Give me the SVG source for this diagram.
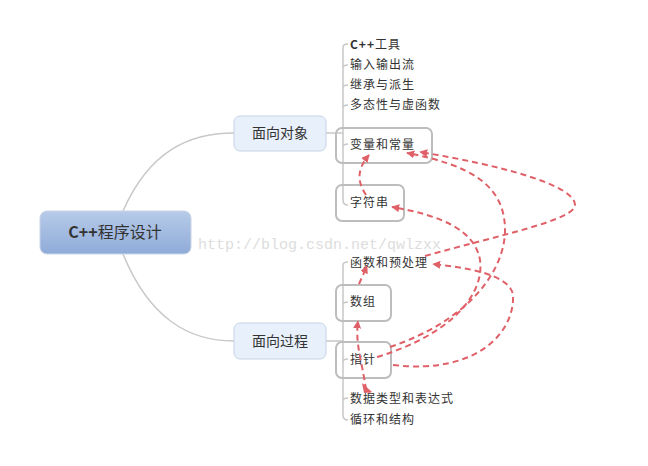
<svg xmlns="http://www.w3.org/2000/svg" width="648" height="466" viewBox="0 0 648 466">
<style>
.t{font-family:"Noto Sans CJK SC","Liberation Sans",sans-serif;font-size:12px;fill:#333;letter-spacing:1px}
.b{font-family:"Noto Sans CJK SC","Liberation Sans",sans-serif;font-size:14px;fill:#333}
.g{fill:none;stroke:#c8c8c8;stroke-width:1.5}
.sel{fill:none;stroke:#bdbdbd;stroke-width:2}
.d{fill:none;stroke:#e06068;stroke-width:2;stroke-dasharray:6 4}
</style>
<defs>
<linearGradient id="rg" x1="0" y1="0" x2="0" y2="1"><stop offset="0" stop-color="#b7cbe9"/><stop offset="1" stop-color="#8fabd8"/></linearGradient>
<marker id="a" viewBox="0 0 10 10" refX="9" refY="5" markerWidth="4" markerHeight="4" orient="auto"><path d="M0,0L10,5L0,10z" fill="#e06068"/></marker>
</defs>
<rect width="648" height="466" fill="#fff"/>
<g id="links" class="g">
<path d="M123,211 C150,150 190,133 234,133"/>
<path d="M123,254 C150,320 190,341 234,341"/>
<path d="M326,133 H343 M326,341 H343"/>
<path d="M343,47 V200 Q343,205 348,205 M343,47 Q343,44 348,44 M343,68 Q343,65 348,65 M343,88 Q343,85 348,85 M343,108 Q343,105 348,105 M343,147 Q343,144 348,144"/>
<path d="M343,265 V415 Q343,420 348,420 M343,265 Q343,262 348,262 M343,305 Q343,302 348,302 M343,362 Q343,359 348,359 M343,401 Q343,398 348,398"/>
</g>
<g id="root"><rect x="40" y="211" width="151" height="43" rx="7" fill="url(#rg)" stroke="#c9d4e6"/><text x="115" y="238" text-anchor="middle" class="b" style="font-size:16px;font-weight:bold">C++<tspan font-weight="normal">程序设计</tspan></text></g>
<g id="oop"><rect x="234" y="116" width="92" height="35" rx="6" fill="#e8f0fb" stroke="#c6d3e6"/><text x="280" y="138" text-anchor="middle" class="b">面向对象</text></g>
<g id="pp"><rect x="234" y="323" width="92" height="36" rx="6" fill="#e8f0fb" stroke="#c6d3e6"/><text x="280" y="346" text-anchor="middle" class="b">面向过程</text></g>
<g id="l1"><text x="350" y="49" class="t"><tspan font-weight="bold">C++</tspan>工具</text></g>
<g id="l2"><text x="350" y="69" class="t">输入输出流</text></g>
<g id="l3"><text x="350" y="89" class="t">继承与派生</text></g>
<g id="l4"><text x="350" y="109" class="t">多态性与虚函数</text></g>
<g id="l5"><rect x="336" y="128" width="96" height="35" rx="6" class="sel"/><text x="350" y="149" class="t">变量和常量</text></g>
<g id="l6"><rect x="336" y="185" width="68" height="36" rx="6" class="sel"/><text x="350" y="207" class="t">字符串</text></g>
<g id="l7"><text x="350" y="267" class="t">函数和预处理</text></g>
<g id="l8"><rect x="336" y="285" width="55" height="36" rx="6" class="sel"/><text x="350" y="306" class="t">数组</text></g>
<g id="l9"><rect x="336" y="342" width="55" height="36" rx="6" class="sel"/><text x="350" y="364" class="t">指针</text></g>
<g id="l10"><text x="350" y="403" class="t">数据类型和表达式</text></g>
<g id="l11"><text x="350" y="424" class="t">循环和结构</text></g>
<text x="198" y="249" font-family="Liberation Mono,monospace" font-size="15" fill="#ddd">http://blog.csdn.net/qwlzxx</text>
<g id="connectors">
<path class="d" marker-end="url(#a)" d="M366,195 C356,180 358,168 369,155"/>
<path class="d" marker-end="url(#a)" d="M377,357 C450,335 485,295 480,260 C475,230 440,215 392,207"/>
<path class="d" marker-end="url(#a)" d="M390,347 C470,320 505,270 505,230 C505,185 470,165 407,153"/>
<path class="d" marker-end="url(#a)" d="M425,256 C500,235 575,220 575,205 C575,185 500,165 420,152"/>
<path class="d" marker-end="url(#a)" d="M393,365 C480,375 515,330 513,295 C510,275 470,268 433,264"/>
<path class="d" marker-end="url(#a)" d="M359,284 L367,266"/>
<path class="d" marker-end="url(#a)" d="M366,390 C362,360 355,345 358,321"/>
<path d="M363,384 L371,393 L366,392 Z" fill="#e06068"/>
<path d="M362,383 L372,392 L364,393 Z" fill="#e06068"/>
</g>
</svg>
